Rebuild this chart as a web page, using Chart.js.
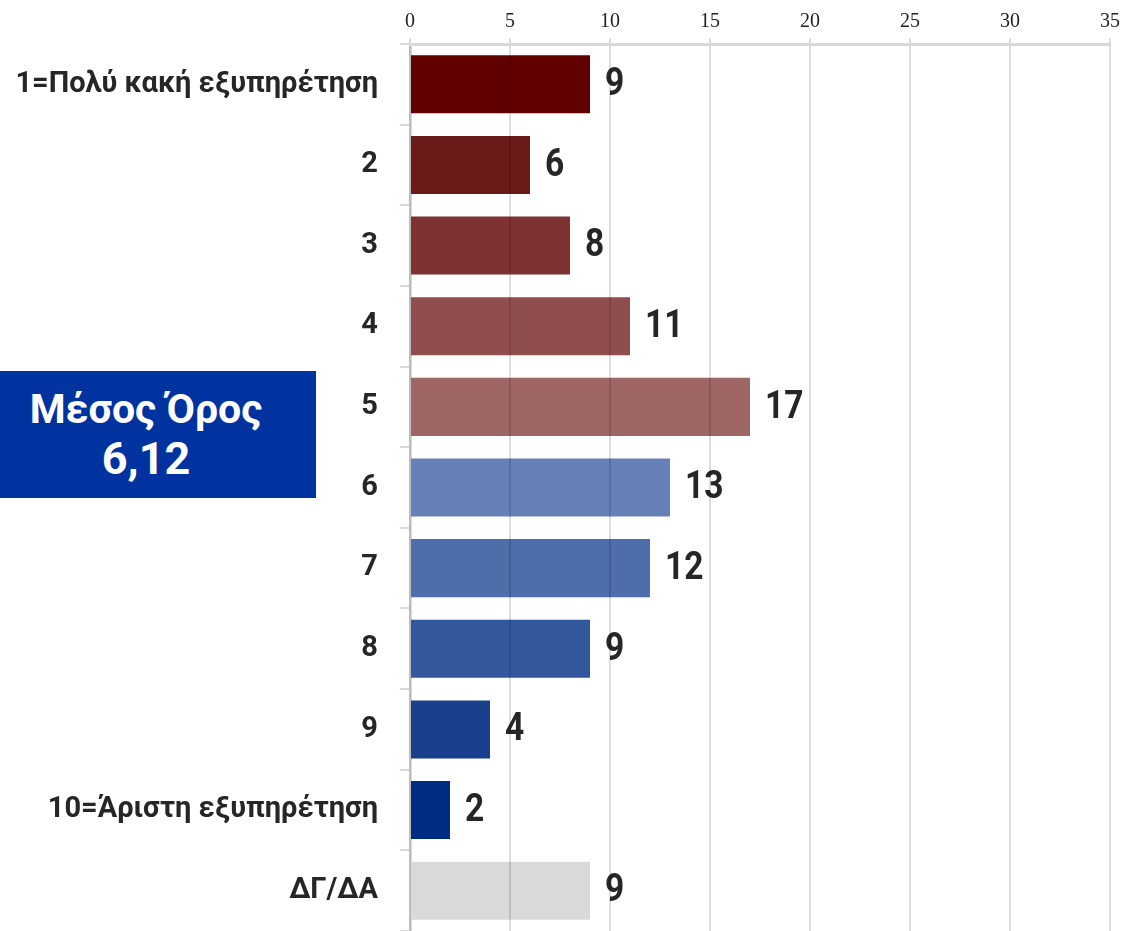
<!DOCTYPE html>
<html>
<head>
<meta charset="utf-8">
<script src="https://cdn.jsdelivr.net/npm/chart.js@4.4.1/dist/chart.umd.min.js"></script>
<style>
  html, body { margin: 0; padding: 0; background: #ffffff; }
  #wrap { position: relative; width: 1125px; height: 931px; }
  #meanBox {
    position: absolute; left: 0; top: 371px; width: 316px; height: 127px;
    background: #0033a0; color: #ffffff; font-family: Roboto, "Noto Sans", sans-serif;
    font-weight: 700; text-align: center; box-sizing: border-box; padding-top: 14px; padding-right: 24px;
  }
  #meanBox .l1 { font-size: 41px; line-height: 48px; }
  #meanBox .l2 { font-size: 45px; line-height: 52px; }
</style>
</head>
<body>
<div id="wrap">
  <canvas id="c" width="1125" height="931"></canvas>
  <div id="meanBox"><div class="l1">Μέσος Όρος</div><div class="l2">6,12</div></div>
</div>
<script>
const categories = [
  "1=Πολύ κακή εξυπηρέτηση", "2", "3", "4", "5", "6", "7", "8", "9",
  "10=Άριστη εξυπηρέτηση", "ΔΓ/ΔΑ"
];
const values = [9, 6, 8, 11, 17, 13, 12, 9, 4, 2, 9];
const barColors = [
  "#600000", "#6b1a1a", "#7e3232", "#8f4d4d", "#9e6664",
  "#6680b8", "#4e6dab", "#33579d", "#1a3f8c", "#002d84", "#d9d9d9"
];
const xTicks = [0, 5, 10, 15, 20, 25, 30, 35];

const valueLabels = {
  id: "valueLabels",
  afterDatasetsDraw(chart) {
    const ctx = chart.ctx;
    const meta = chart.getDatasetMeta(0);
    ctx.save();
    ctx.fillStyle = "#262626";
    ctx.font = "700 39px Roboto";
    ctx.textBaseline = "middle";
    ctx.textAlign = "left";
    meta.data.forEach((bar, i) => {
      const x = bar.x + 15;
      const y = bar.y + 1;
      ctx.save();
      ctx.translate(x, y);
      ctx.scale(0.86, 1);
      ctx.fillText(String(values[i]), 0, 0);
      ctx.restore();
    });
    ctx.restore();
  }
};

function build() {
  new Chart(document.getElementById("c"), {
    type: "bar",
    data: {
      labels: categories,
      datasets: [{
        data: values,
        backgroundColor: barColors,
        borderWidth: 0,
        barPercentage: 0.72,
        categoryPercentage: 1.0
      }]
    },
    options: {
      indexAxis: "y",
      responsive: false,
      animation: false,
      layout: { padding: { left: 0, top: 0, bottom: 0, right: 15 } },
      plugins: { legend: { display: false }, tooltip: { enabled: false } },
      scales: {
        x: {
          position: "top",
          min: 0, max: 35,
          afterBuildTicks(s) { s.ticks = xTicks.map(v => ({ value: v })); },
          afterFit(s) { s.height = 44; s.paddingLeft = 0; s.paddingRight = 0; },
          grid: { color: "rgba(0,0,0,0.13)", lineWidth: 2, tickLength: 6, z: 1 },
          border: { display: true, color: "#d9d9d9", width: 3, z: 2 },
          ticks: {
            color: "#222222",
            font: { family: "'Liberation Serif', 'DejaVu Serif', serif", size: 20 },
            padding: 4,
            maxRotation: 0,
            z: 2
          }
        },
        y: {
          afterFit(s) { s.width = 410; s.paddingTop = 0; s.paddingBottom = 0; },
          grid: { display: true, drawOnChartArea: false, offset: true, color: "#d9d9d9", lineWidth: 2, tickLength: 10 },
          border: { display: true, color: "#d9d9d9", width: 3 },
          ticks: {
            color: "#262626",
            font: { family: "Roboto", size: 29, weight: "700" },
            padding: 22
          }
        }
      }
    },
    plugins: [valueLabels]
  });
}

Promise.all([
  document.fonts.load("700 30px Roboto"),
  document.fonts.load("20px 'Liberation Serif'")
]).then(build, build);
</script>
</body>
</html>
